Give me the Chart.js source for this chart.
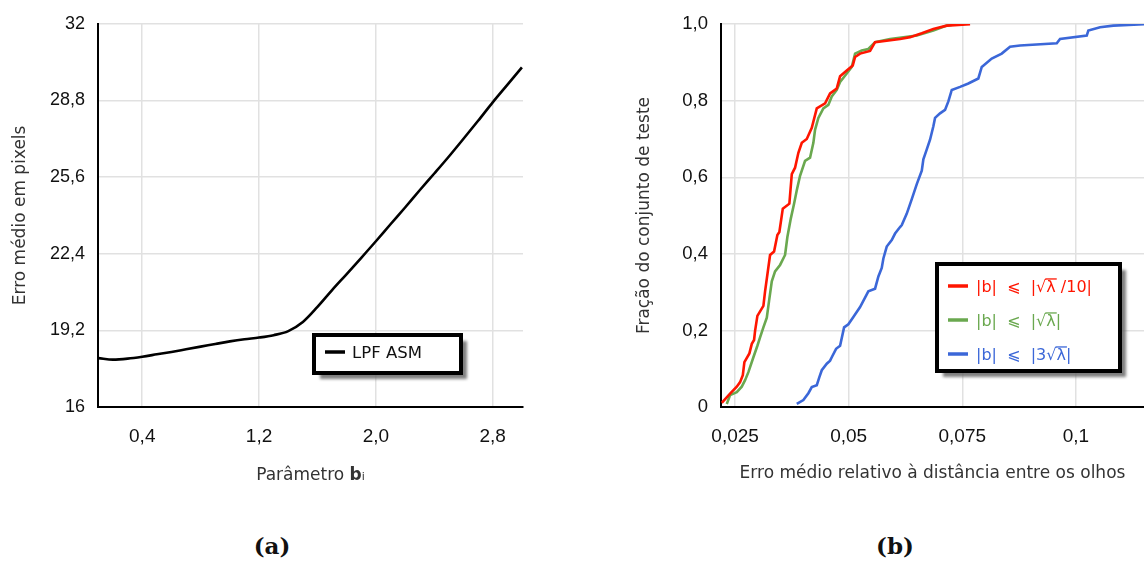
<!DOCTYPE html>
<html lang="pt">
<head>
<meta charset="utf-8">
<title>Erro médio — LPF ASM</title>
<script src="https://cdn.jsdelivr.net/npm/chart.js@4.4.1/dist/chart.umd.min.js"></script>
<style>
  html, body { margin: 0; padding: 0; background: #fff; }
  body { width: 1144px; height: 563px; overflow: hidden; position: relative; }
  canvas { position: absolute; top: 0; }
  #chartA { left: 0; }
  #chartB { left: 600px; }
  .cap { position: absolute; top: 532px; line-height: 30px; font: bold 23px "DejaVu Serif", serif;
         color: #111; transform: translateX(-50%); }
</style>
</head>
<body>
<canvas id="chartA" width="540" height="500"></canvas>
<canvas id="chartB" width="544" height="500"></canvas>
<div class="cap" style="left:272px">(a)</div>
<div class="cap" style="left:895px">(b)</div>
<script>
// ---- (a) erro médio em pixels em função do parâmetro b_i ----
const paramB = [0.1, 0.2, 0.3, 0.4, 0.5, 0.6, 0.7, 0.8, 0.9, 1.0, 1.1, 1.2, 1.3, 1.4, 1.5,
                1.6, 1.7, 1.8, 1.9, 2.0, 2.1, 2.2, 2.3, 2.4, 2.5, 2.6, 2.7, 2.8, 2.9, 3.0];
const erroPixels = [18.04, 17.98, 18.02, 18.10, 18.20, 18.30, 18.41, 18.52, 18.63, 18.74, 18.83, 18.90, 19.00, 19.17, 19.55,
                    20.18, 20.88, 21.55, 22.23, 22.92, 23.63, 24.33, 25.05, 25.75, 26.46, 27.20, 27.95, 28.72, 29.45, 30.18];
const ticksAx = [0.4, 1.2, 2.0, 2.8];
const labelsAx = ['0,4', '1,2', '2,0', '2,8'];
const ticksAy = [16, 19.2, 22.4, 25.6, 28.8, 32];
const labelsAy = ['16', '19,2', '22,4', '25,6', '28,8', '32'];

// ---- (b) fração acumulada do conjunto de teste ----
const erroVermelho = [0.02207, 0.0239, 0.02537, 0.0261, 0.0267, 0.02705, 0.02815, 0.02868, 0.02918, 0.0294,
                      0.02991, 0.03123, 0.0316, 0.0327, 0.03358, 0.03431, 0.03475, 0.0355, 0.03695, 0.03748,
                      0.0382, 0.03893, 0.03968, 0.04078, 0.04188, 0.04298, 0.04481, 0.04591, 0.04738, 0.04811,
                      0.04958, 0.0509, 0.05141, 0.05251, 0.05471, 0.05581, 0.06131, 0.06351, 0.06609, 0.06864,
                      0.07159, 0.07672];
const fracVermelho = [0.011, 0.035, 0.053, 0.065, 0.083, 0.117, 0.140, 0.165, 0.175, 0.199,
                      0.238, 0.264, 0.302, 0.397, 0.406, 0.449, 0.457, 0.518, 0.531, 0.608,
                      0.625, 0.664, 0.690, 0.700, 0.729, 0.780, 0.793, 0.819, 0.832, 0.864,
                      0.879, 0.892, 0.914, 0.923, 0.930, 0.953, 0.961, 0.966, 0.976, 0.987,
                      0.996, 1.0];
const erroVerde = [0.02317, 0.0239, 0.02537, 0.02647, 0.0272, 0.02793, 0.02903, 0.02991, 0.0305, 0.03123,
                   0.03198, 0.03248, 0.03308, 0.0338, 0.0349, 0.036, 0.03651, 0.03726, 0.03798, 0.03858,
                   0.0393, 0.0404, 0.0415, 0.04223, 0.0426, 0.04333, 0.04443, 0.04553, 0.04628, 0.04738,
                   0.04811, 0.04958, 0.05068, 0.05141, 0.05288, 0.05433, 0.05581, 0.05911, 0.06499, 0.06864,
                   0.07159, 0.07342];
const fracVerde = [0.008, 0.031, 0.039, 0.053, 0.070, 0.091, 0.130, 0.160, 0.182, 0.208,
                   0.233, 0.277, 0.328, 0.354, 0.371, 0.397, 0.444, 0.492, 0.531, 0.566,
                   0.604, 0.643, 0.651, 0.690, 0.724, 0.755, 0.780, 0.789, 0.811, 0.828,
                   0.849, 0.871, 0.888, 0.923, 0.931, 0.935, 0.953, 0.961, 0.970, 0.983,
                   0.996, 1.0];
const erroAzul = [0.03858, 0.04003, 0.04113, 0.04188, 0.04298, 0.04355, 0.04408, 0.04518, 0.04591, 0.04628,
                  0.04723, 0.04811, 0.04899, 0.04993, 0.05103, 0.05251, 0.05398, 0.05433, 0.05581, 0.05654,
                  0.05728, 0.05764, 0.05838, 0.05948, 0.06021, 0.06131, 0.06169, 0.06279, 0.06389, 0.06499,
                  0.06609, 0.06644, 0.06719, 0.06791, 0.06864, 0.06901, 0.07011, 0.07121, 0.07194, 0.07269,
                  0.07452, 0.07634, 0.07854, 0.07929, 0.08149, 0.08369, 0.08552, 0.08772, 0.0958, 0.09652,
                  0.1024, 0.10275, 0.10533, 0.10825, 0.1150];
const fracAzul = [0.008, 0.018, 0.036, 0.052, 0.057, 0.078, 0.096, 0.113, 0.121, 0.130,
                  0.152, 0.160, 0.208, 0.216, 0.235, 0.261, 0.294, 0.302, 0.309, 0.341,
                  0.363, 0.388, 0.419, 0.436, 0.453, 0.470, 0.475, 0.505, 0.543, 0.582,
                  0.617, 0.647, 0.673, 0.698, 0.733, 0.755, 0.767, 0.776, 0.798, 0.828,
                  0.836, 0.845, 0.858, 0.888, 0.910, 0.923, 0.941, 0.944, 0.950, 0.961,
                  0.970, 0.983, 0.992, 0.996, 1.0];
const seriesB = ['|b|  ⩽  |√λ /10|', '|b|  ⩽  |√λ|', '|b|  ⩽  |3√λ|'];
const ticksBx = [0.025, 0.05, 0.075, 0.1];
const labelsBx = ['0,025', '0,05', '0,075', '0,1'];
const ticksBy = [0, 0.2, 0.4, 0.6, 0.8, 1.0];
const labelsBy = ['0', '0,2', '0,4', '0,6', '0,8', '1,0'];

const FONT = "'Liberation Sans', 'DejaVu Sans', sans-serif";
const NARROW = "'Liberation Sans Narrow', 'Liberation Sans', sans-serif";
const TEXT = "'DejaVu Sans', 'Liberation Sans', sans-serif";
const GRID = '#e1e1e1';

const pairs = (xs, ys) => xs.map((x, i) => ({ x, y: ys[i] }));
const fixedTicks = values => scale => { scale.ticks = values.map(v => ({ value: v })); };

// Framed legend with a drop shadow, drawn from the dataset labels and colours
const boxLegend = {
  id: 'boxLegend',
  afterDraw(chart, args, o) {
    const ctx = chart.ctx;
    ctx.save();
    ctx.fillStyle = 'rgba(95,95,95,0.8)';
    ctx.filter = 'blur(1.5px)';
    ctx.fillRect(o.left + 6, o.top + 6, o.width, o.height);
    ctx.filter = 'none';
    ctx.fillStyle = '#fff';
    ctx.fillRect(o.left, o.top, o.width, o.height);
    ctx.lineWidth = 4;
    ctx.strokeStyle = '#000';
    ctx.strokeRect(o.left, o.top, o.width, o.height);

    ctx.font = o.fontSize + 'px ' + TEXT;
    ctx.textBaseline = 'alphabetic';
    ctx.textAlign = 'left';
    chart.data.datasets.forEach((ds, i) => {
      const y = o.top + o.firstRow + i * o.rowGap;
      const x0 = o.left + o.padLeft;
      ctx.strokeStyle = ds.borderColor;
      ctx.lineWidth = 3.5;
      ctx.beginPath();
      ctx.moveTo(x0, y);
      ctx.lineTo(x0 + 20, y);
      ctx.stroke();
      const tx = x0 + o.textGap;
      const base = y + o.fontSize * 0.36;
      const col = o.textColor || ds.borderColor;
      ctx.fillStyle = col;
      ctx.fillText(ds.label, tx, base);
      const k = ds.label.indexOf('√');
      if (k >= 0) {
        // vinculum of the square root over λ
        const xa = tx + ctx.measureText(ds.label.slice(0, k + 1)).width;
        const w = ctx.measureText('λ').width;
        ctx.strokeStyle = col;
        ctx.lineWidth = 1.3;
        ctx.beginPath();
        ctx.moveTo(xa - 1, base - o.fontSize * 0.8);
        ctx.lineTo(xa + w + 1, base - o.fontSize * 0.8);
        ctx.stroke();
      }
    });
    ctx.restore();
  }
};

// Axis title made of runs with their own weight and size (for "Parâmetro b" with subscript i)
const richTitle = {
  id: 'richTitle',
  afterDraw(chart, args, o) {
    const ctx = chart.ctx;
    const a = chart.chartArea;
    ctx.save();
    ctx.fillStyle = o.color;
    ctx.textBaseline = 'alphabetic';
    ctx.textAlign = 'left';
    const fontOf = r => (r.bold ? 'bold ' : '') + r.size + 'px ' + TEXT;
    let total = 0;
    o.runs.forEach(r => { ctx.font = fontOf(r); total += ctx.measureText(r.text).width; });
    let x = (a.left + a.right) / 2 - total / 2;
    o.runs.forEach(r => {
      ctx.font = fontOf(r);
      ctx.fillText(r.text, x, o.baseline);
      x += ctx.measureText(r.text).width;
    });
    ctx.restore();
  }
};

const titleFont = { family: TEXT, size: 17 };

new Chart(document.getElementById('chartA'), {
  type: 'line',
  data: {
    datasets: [{
      label: 'LPF ASM',
      data: pairs(paramB, erroPixels),
      borderColor: '#000',
      borderWidth: 2.6,
      pointRadius: 0,
      tension: 0.4,
      cubicInterpolationMode: 'monotone',
      fill: false
    }]
  },
  options: {
    responsive: false, animation: false, devicePixelRatio: 1,
    layout: { padding: { top: 20, right: 17, left: 0, bottom: 0 } },
    plugins: {
      legend: { display: false }, tooltip: { enabled: false },
      boxLegend: { left: 314, top: 335, width: 147, height: 38, firstRow: 17, rowGap: 34,
                   padLeft: 11, textGap: 27, fontSize: 16.5, textColor: '#111' },
      richTitle: { color: '#333', baseline: 480,
                   runs: [{ text: 'Parâmetro ', size: 17 }, { text: 'b', size: 17, bold: true }, { text: 'i', size: 11 }] }
    },
    scales: {
      x: {
        type: 'linear', min: 0.097, max: 3.0075,
        afterBuildTicks: fixedTicks(ticksAx),
        afterFit: s => { s.height = 93; },
        grid: { color: GRID, lineWidth: 1.5, drawTicks: false },
        border: { color: '#000', width: 2 },
        ticks: { padding: 18, color: '#111', font: { family: FONT, size: 19 }, autoSkip: false, maxRotation: 0,
                 callback: (v, i) => labelsAx[i] },
        title: { display: false }
      },
      y: {
        type: 'linear', min: 16, max: 32,
        afterBuildTicks: fixedTicks(ticksAy),
        afterFit: s => { s.width = 98; },
        grid: { color: GRID, lineWidth: 1.5, drawTicks: false },
        border: { color: '#000', width: 2 },
        ticks: { padding: 13, color: '#111', font: { family: NARROW, size: 18 }, autoSkip: false,
                 callback: (v, i) => labelsAy[i] },
        title: { display: true, text: 'Erro médio em pixels', color: '#333', font: titleFont, padding: { top: 10, bottom: 0 } }
      }
    }
  },
  plugins: [boxLegend, richTitle]
});

new Chart(document.getElementById('chartB'), {
  type: 'line',
  data: {
    datasets: [
      { label: seriesB[0], data: pairs(erroVermelho, fracVermelho), borderColor: '#ff1500' },
      { label: seriesB[1], data: pairs(erroVerde, fracVerde), borderColor: '#6aa84f' },
      { label: seriesB[2], data: pairs(erroAzul, fracAzul), borderColor: '#3b67d8' }
    ].map(d => ({ ...d, borderWidth: 2.6, pointRadius: 0, tension: 0, fill: false }))
  },
  options: {
    responsive: false, animation: false, devicePixelRatio: 1,
    layout: { padding: { top: 20, right: 0, left: 0, bottom: 0 } },
    plugins: {
      legend: { display: false }, tooltip: { enabled: false },
      boxLegend: { left: 337, top: 264, width: 183, height: 107, firstRow: 22, rowGap: 34,
                   padLeft: 11, textGap: 28, fontSize: 16 }
    },
    scales: {
      x: {
        type: 'linear', min: 0.0219, max: 0.1150,
        afterBuildTicks: fixedTicks(ticksBx),
        afterFit: s => { s.height = 93; },
        grid: { color: GRID, lineWidth: 1.5, drawTicks: false },
        border: { color: '#000', width: 2 },
        ticks: { padding: 18, color: '#111', font: { family: FONT, size: 19 }, autoSkip: false, maxRotation: 0,
                 callback: (v, i) => labelsBx[i] },
        title: { display: true, text: 'Erro médio relativo à distância entre os olhos', color: '#333',
                 font: titleFont, padding: { top: 0, bottom: 16 } }
      },
      y: {
        type: 'linear', min: 0, max: 1,
        afterBuildTicks: fixedTicks(ticksBy),
        afterFit: s => { s.width = 121; },
        grid: { color: GRID, lineWidth: 1.5, drawTicks: false },
        border: { color: '#000', width: 2 },
        ticks: { padding: 13, color: '#111', font: { family: FONT, size: 18.5 }, autoSkip: false,
                 callback: (v, i) => labelsBy[i] },
        title: { display: true, text: 'Fração do conjunto de teste', color: '#333', font: titleFont,
                 padding: { top: 34, bottom: 0 } }
      }
    }
  },
  plugins: [boxLegend]
});
</script>
</body>
</html>
